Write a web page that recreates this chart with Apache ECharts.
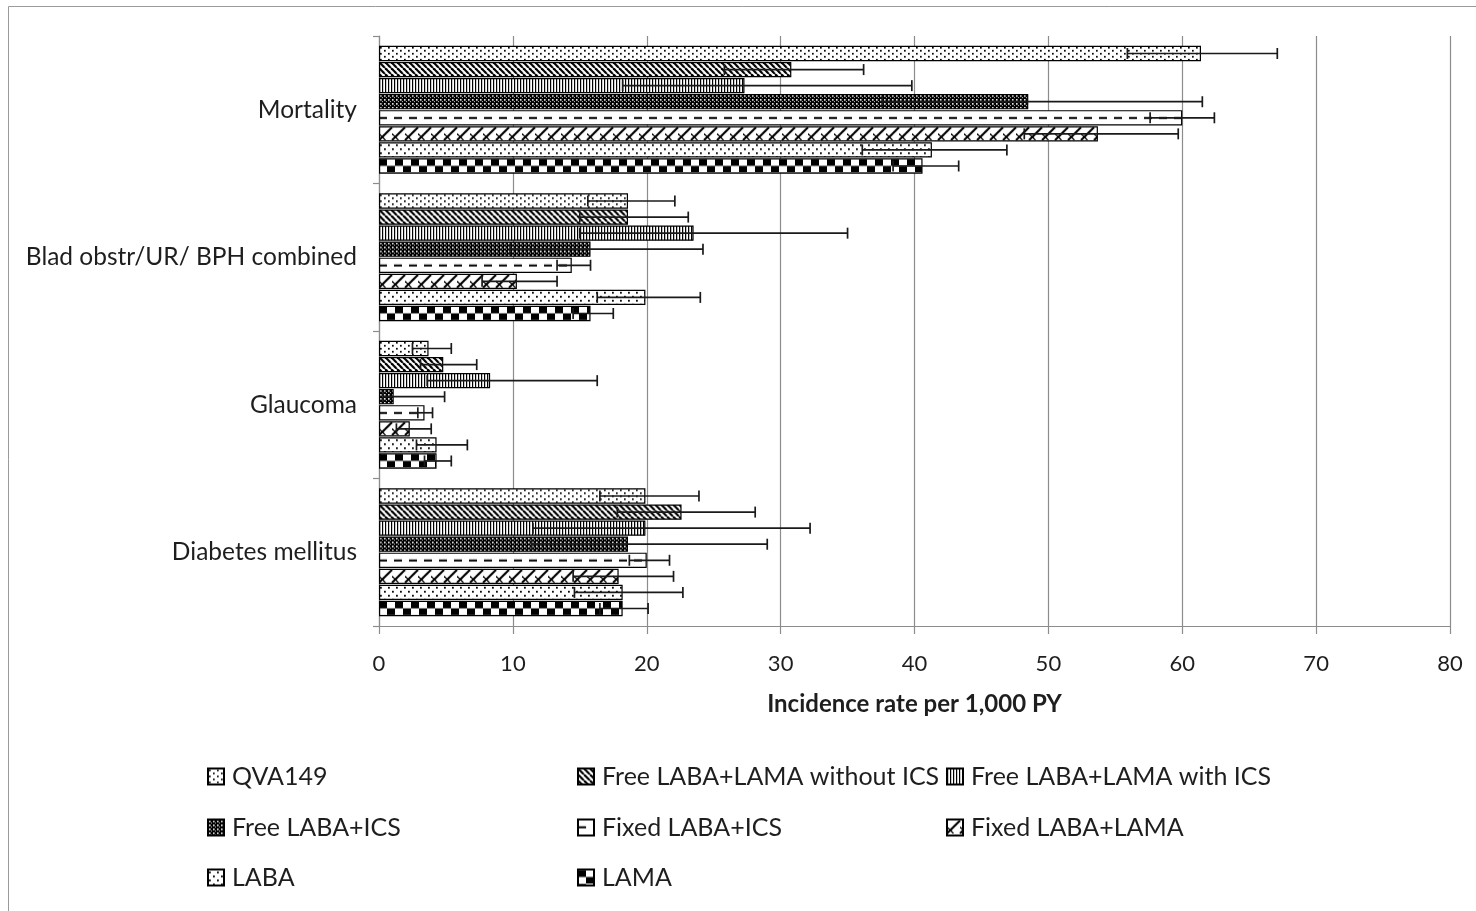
<!DOCTYPE html>
<html>
<head>
<meta charset="utf-8">
<title>Incidence rate per 1,000 PY</title>
<script src="https://cdn.jsdelivr.net/npm/echarts@6/dist/echarts.min.js"></script>
<style>
  html, body { margin: 0; padding: 0; background: #fff; }
  #chart { width: 1476px; height: 911px; }
</style>
</head>
<body>
<div id="chart"></div>
<script>
// Outcome categories, top to bottom
const categories = ['Mortality', 'Blad obstr/UR/ BPH combined', 'Glaucoma', 'Diabetes mellitus'];

const seriesNames = [
  'QVA149',
  'Free LABA+LAMA without ICS',
  'Free LABA+LAMA with ICS',
  'Free LABA+ICS',
  'Fixed LABA+ICS',
  'Fixed LABA+LAMA',
  'LABA',
  'LAMA'
];

// Incidence rates per 1,000 PY (same order as categories) and 95% CI [low, high]
const rateQVA149 = [61.4, 18.6, 3.7, 19.9];
const ciQVA149 = [[55.9, 67.1], [15.6, 22.1], [2.5, 5.4], [16.5, 23.9]];

const rateFreeLabaLamaNoIcs = [30.8, 18.6, 4.8, 22.6];
const ciFreeLabaLamaNoIcs = [[25.8, 36.2], [15.0, 23.1], [3.1, 7.3], [17.8, 28.1]];

const rateFreeLabaLamaIcs = [27.3, 23.5, 8.3, 19.9];
const ciFreeLabaLamaIcs = [[18.2, 39.8], [15.0, 35.0], [3.6, 16.3], [11.5, 32.2]];

const rateFreeLabaIcs = [48.5, 15.8, 1.1, 18.6];
const ciFreeLabaIcs = [[37.6, 61.5], [9.8, 24.2], [0.3, 4.9], [11.4, 29.0]];

const rateFixedLabaIcs = [60.0, 14.4, 3.4, 20.0];
const ciFixedLabaIcs = [[57.6, 62.4], [13.3, 15.8], [2.9, 4.0], [18.7, 21.7]];

const rateFixedLabaLama = [53.7, 10.3, 2.3, 17.9];
const ciFixedLabaLama = [[48.2, 59.7], [7.7, 13.3], [1.3, 3.9], [14.5, 22.0]];

const rateLaba = [41.3, 19.9, 4.3, 18.2];
const ciLaba = [[36.1, 46.9], [16.3, 24.0], [2.8, 6.6], [14.6, 22.7]];

const rateLama = [40.6, 15.8, 4.3, 18.2];
const ciLama = [[38.4, 43.3], [14.5, 17.5], [3.4, 5.4], [16.5, 20.1]];

const xTicks = [0, 10, 20, 30, 40, 50, 60, 70, 80];

const rates = [rateQVA149, rateFreeLabaLamaNoIcs, rateFreeLabaLamaIcs, rateFreeLabaIcs,
               rateFixedLabaIcs, rateFixedLabaLama, rateLaba, rateLama];
const cis = [ciQVA149, ciFreeLabaLamaNoIcs, ciFreeLabaLamaIcs, ciFreeLabaIcs,
             ciFixedLabaIcs, ciFixedLabaLama, ciLaba, ciLama];

// ---- monochrome fill tiles ----
function makeTile(w, h, draw) {
  const c = document.createElement('canvas');
  c.width = w; c.height = h;
  const g = c.getContext('2d');
  g.fillStyle = '#fff';
  g.fillRect(0, 0, w, h);
  g.fillStyle = '#000';
  g.strokeStyle = '#000';
  draw(g, w, h);
  return c;
}

const tiles = [
  // fine staggered dots
  makeTile(8, 6, g => { g.fillRect(1, 1, 1.7, 1.7); g.fillRect(5, 4, 1.7, 1.7); }),
  // wide downward diagonal
  makeTile(6, 6, (g, w, h) => {
    g.lineWidth = 2.2;
    for (let k = -w; k <= w; k += w) { g.beginPath(); g.moveTo(k, 0); g.lineTo(k + w, h); g.stroke(); }
  }),
  // narrow vertical lines
  makeTile(3, 3, g => { g.fillRect(0, 0, 1.2, 3); }),
  // dark grid with light dots
  makeTile(4, 4, g => { g.fillRect(0, 0, 4, 4); g.fillStyle = '#fff'; g.fillRect(1, 1, 1.6, 1.6); g.fillStyle = '#bbb'; g.fillRect(3, 3, 1, 1); }),
  // horizontal dashes
  makeTile(15, 16, g => { g.fillRect(0, 6.8, 8, 2); }),
  // trellis / zigzag
  makeTile(13, 16, (g, w) => {
    g.lineWidth = 2;
    for (let k = -w; k <= w; k += w) { g.beginPath(); g.moveTo(k, 14); g.lineTo(k + w, 1); g.stroke(); }
    g.lineWidth = 1.2;
    g.beginPath(); g.moveTo(0, 7.5); g.lineTo(6.5, 14); g.stroke();
  }),
  // sparse staggered dots
  makeTile(8, 8, g => { g.fillRect(1, 2, 1.8, 1.8); g.fillRect(5, 6, 1.8, 1.8); }),
  // large checkerboard
  makeTile(16, 14, g => { g.fillRect(0, 0.5, 8, 7); g.fillRect(8, 7.5, 8, 7); })
];

// ---- bar geometry (shared by bars, fill alignment and CI whiskers) ----
const BAR_W = 15.3;
const BAR_GAP = 0.05;
const step = BAR_W * (1 + BAR_GAP);
const groupW = BAR_W * seriesNames.length + BAR_W * BAR_GAP * (seriesNames.length - 1);

const GRID = { left: 379, right: 26, top: 36, bottom: 285 };
const plotH = 911 - GRID.top - GRID.bottom;
const band = plotH / categories.length;

// top edge of bar i in category k, used to anchor the fill tile to each bar
function barTop(i, k) {
  return GRID.top + band * (k + 0.5) - groupW / 2 + i * step;
}

const FONT = 'Lato, "Open Sans", sans-serif';
const TEXT = '#1e1e1e';

const barSeries = seriesNames.map((name, i) => ({
  name,
  type: 'bar',
  barWidth: BAR_W,
  barGap: (BAR_GAP * 100) + '%',
  data: rates[i].map((v, k) => ({
    value: v,
    itemStyle: { color: { image: tiles[i], repeat: 'repeat', x: GRID.left, y: barTop(i, k) } }
  })),
  itemStyle: { color: { image: tiles[i], repeat: 'repeat' }, borderColor: '#000', borderWidth: 1.2 },
  emphasis: { disabled: true },
  z: 2
}));

const ciSeries = seriesNames.map((name, i) => ({
  name: 'ci_' + i,
  type: 'custom',
  z: 5,
  encode: { x: [1, 2], y: 0 },
  data: cis[i].map((c, k) => [k, c[0], c[1]]),
  renderItem: (params, api) => {
    const k = api.value(0);
    const pLo = api.coord([api.value(1), k]);
    const pHi = api.coord([api.value(2), k]);
    const y = pLo[1] - groupW / 2 + i * step + BAR_W / 2;
    const cap = 5.5;
    const st = { stroke: '#1a1a1a', lineWidth: 1.7 };
    return {
      type: 'group',
      children: [
        { type: 'line', shape: { x1: pLo[0], y1: y, x2: pHi[0], y2: y }, style: st },
        { type: 'line', shape: { x1: pLo[0], y1: y - cap, x2: pLo[0], y2: y + cap }, style: st },
        { type: 'line', shape: { x1: pHi[0], y1: y - cap, x2: pHi[0], y2: y + cap }, style: st }
      ]
    };
  }
}));

// legend laid out in three columns, three rows
const legendCols = [207, 577, 946];
const legendRows = [764, 815, 865];
const legends = seriesNames.map((name, i) => ({
  data: [name],
  left: legendCols[i % 3],
  top: legendRows[Math.floor(i / 3)],
  padding: 0,
  itemWidth: 16,
  itemHeight: 16,
  icon: 'rect',
  selectedMode: false,
  textStyle: { fontFamily: FONT, fontSize: 25, color: TEXT, padding: [0, 0, 0, 3] }
}));

const chart = echarts.init(document.getElementById('chart'), null, { renderer: 'canvas' });
chart.setOption({
  animation: false,
  backgroundColor: '#fff',
  grid: GRID,
  legend: legends,
  graphic: [{
    type: 'rect',
    shape: { x: 8.5, y: 6.5, width: 1480, height: 920 },
    style: { fill: null, stroke: '#9a9a9a', lineWidth: 1 },
    silent: true
  }],
  xAxis: {
    type: 'value',
    min: xTicks[0],
    max: xTicks[xTicks.length - 1],
    interval: xTicks[1] - xTicks[0],
    name: 'Incidence rate per 1,000 PY',
    nameLocation: 'middle',
    nameGap: 66,
    nameTextStyle: { fontFamily: FONT, fontSize: 24, fontWeight: 'bold', color: TEXT },
    axisLine: { show: true, lineStyle: { color: '#8c8c8c', width: 1.2 } },
    axisTick: { show: true, length: 8, lineStyle: { color: '#8c8c8c', width: 1.2 } },
    axisLabel: { fontFamily: FONT, fontSize: 22, color: TEXT, margin: 27 },
    splitLine: { show: true, lineStyle: { color: '#8c8c8c', width: 1.2 } }
  },
  yAxis: {
    type: 'category',
    inverse: true,
    data: categories,
    axisLine: { show: true, lineStyle: { color: '#8c8c8c', width: 1.2 } },
    axisTick: { show: true, length: 6, lineStyle: { color: '#8c8c8c', width: 1.2 } },
    axisLabel: { fontFamily: FONT, fontSize: 24.5, color: TEXT, margin: 22 },
    splitLine: { show: false }
  },
  series: barSeries.concat(ciSeries)
});
</script>
</body>
</html>
